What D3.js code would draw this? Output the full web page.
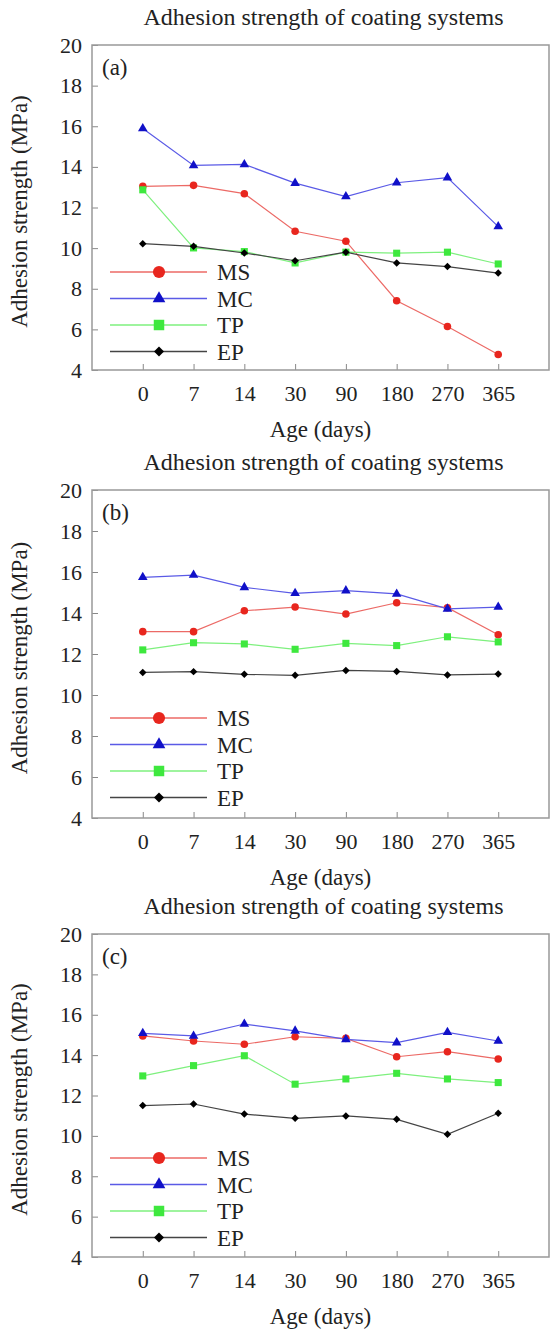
<!DOCTYPE html>
<meta charset="utf-8">
<title>Adhesion strength of coating systems</title>
<body>
<script src="https://cdn.jsdelivr.net/npm/d3@7"></script>
<style>
html, body {
    margin: 0;
    background: #fff;
}
svg {
    display: block;
}
svg text {
    fill: #222;
}
.axis line {
    stroke: #888;
}
</style>
<script>
// ages shown along the x axis (categorical, equally spaced)
var ages = ["0", "7", "14", "30", "90", "180", "270", "365"];
var yTicks = [4, 6, 8, 10, 12, 14, 16, 18, 20];
var panelLabels = ["(a)", "(b)", "(c)"];
var seriesNames = ["MS", "MC", "TP", "EP"];

// panel (a)
var msA = [13.04, 13.09, 12.68, 10.83, 10.34, 7.41, 6.14, 4.76];
var mcA = [15.89, 14.07, 14.12, 13.2, 12.54, 13.22, 13.47, 11.06];
var tpA = [12.87, 10.01, 9.83, 9.27, 9.8, 9.75, 9.8, 9.22];
var epA = [10.22, 10.09, 9.76, 9.38, 9.8, 9.27, 9.09, 8.77];

// panel (b)
var msB = [13.09, 13.09, 14.11, 14.29, 13.95, 14.5, 14.26, 12.94];
var mcB = [15.74, 15.85, 15.25, 14.96, 15.09, 14.93, 14.2, 14.29];
var tpB = [12.2, 12.55, 12.49, 12.23, 12.52, 12.41, 12.84, 12.59];
var epB = [11.1, 11.14, 11.01, 10.96, 11.2, 11.15, 10.98, 11.02];

// panel (c)
var msC = [14.95, 14.7, 14.54, 14.91, 14.83, 13.92, 14.17, 13.81];
var mcC = [15.08, 14.95, 15.54, 15.2, 14.78, 14.62, 15.13, 14.7];
var tpC = [12.97, 13.48, 13.97, 12.56, 12.82, 13.1, 12.82, 12.64];
var epC = [11.5, 11.58, 11.08, 10.87, 10.99, 10.82, 10.08, 11.12];

var panelData = [
    [msA, mcA, tpA, epA],
    [msB, mcB, tpB, epB],
    [msC, mcC, tpC, epC]
];

var serif = "'Liberation Serif', 'Times New Roman', serif";

var lineColors = ["#ec6a66", "#5a5ae6", "#7ef07e", "#444"];
var markColors = ["#e8261e", "#1010c8", "#3ee83e", "#000"];
// the diamond is a square turned 45 degrees
var symbols = [d3.symbolCircle, d3.symbolTriangle, d3.symbolSquare, d3.symbolSquare];
var turns = [0, 0, 0, 45];
var markSizes = [45, 40, 50, 28];
var legendSizes = [115, 70, 110, 50];

var width = 551,
    height = 1329;

// box top / bottom of each panel, and legend top row
var boxes = [
    {top: 45, bottom: 370, legendY: 272},
    {top: 490, bottom: 818, legendY: 718},
    {top: 934, bottom: 1257, legendY: 1158}
];
var left = 92,
    right = 549;

var svg = d3.select("body").append("svg")
    .attr("width", width)
    .attr("height", height)
    .attr("font-family", serif);

var x = d3.scalePoint()
    .domain(ages)
    .range([left, right])
    .padding(1);

boxes.forEach(function(b, p) {
    var g = svg.append("g");

    var y = d3.scaleLinear()
        .domain([4, 20])
        .range([b.bottom, b.top]);

    g.append("text")
        .attr("x", (left + right) / 2 + 3)
        .attr("y", b.top - 20)
        .attr("text-anchor", "middle")
        .style("font-size", "24px")
        .text("Adhesion strength of coating systems");

    g.append("g")
        .attr("class", "axis")
        .attr("transform", "translate(" + left + ",0)")
        .call(d3.axisLeft(y).tickValues(yTicks).tickSizeInner(-6).tickSizeOuter(0).tickPadding(10))
        .attr("font-family", serif)
        .attr("font-size", 22)
        .call(function(s) { s.select(".domain").remove(); });

    g.append("g")
        .attr("class", "axis")
        .attr("transform", "translate(0," + b.bottom + ")")
        .call(d3.axisBottom(x).tickSizeInner(-6).tickSizeOuter(0).tickPadding(15))
        .attr("font-family", serif)
        .attr("font-size", 22)
        .call(function(s) { s.select(".domain").remove(); });

    g.append("rect")
        .attr("x", left)
        .attr("y", b.top)
        .attr("width", right - left)
        .attr("height", b.bottom - b.top)
        .attr("fill", "none")
        .attr("stroke", "#999")
        .attr("stroke-width", 1.5);

    g.append("text")
        .attr("x", left + 10)
        .attr("y", b.top + 30)
        .style("font-size", "23px")
        .text(panelLabels[p]);

    g.append("text")
        .attr("transform", "translate(27," + ((b.top + b.bottom) / 2 + 4) + ")rotate(-90)")
        .attr("text-anchor", "middle")
        .style("font-size", "23px")
        .text("Adhesion strength (MPa)");

    g.append("text")
        .attr("x", (left + right) / 2)
        .attr("y", b.bottom + 67)
        .attr("text-anchor", "middle")
        .style("font-size", "23px")
        .text("Age (days)");

    var line = d3.line()
        .x(function(d, i) { return x(ages[i]); })
        .y(function(d) { return y(d); });

    panelData[p].forEach(function(values, s) {
        g.append("path")
            .datum(values)
            .attr("fill", "none")
            .attr("stroke", lineColors[s])
            .attr("stroke-width", 1.2)
            .attr("d", line);

        g.selectAll(null)
            .data(values)
            .enter().append("path")
            .attr("transform", function(d, i) {
                return "translate(" + x(ages[i]) + "," + y(d) + ")rotate(" + turns[s] + ")";
            })
            .attr("fill", markColors[s])
            .attr("d", d3.symbol().type(symbols[s]).size(markSizes[s]));
    });

    // legend
    var legend = g.selectAll(".legend")
        .data(seriesNames)
        .enter().append("g")
        .attr("transform", function(d, i) {
            return "translate(0," + (b.legendY + i * 26.5) + ")";
        });

    legend.append("line")
        .attr("x1", left + 18)
        .attr("x2", left + 115)
        .attr("stroke", function(d, i) { return lineColors[i]; })
        .attr("stroke-width", 1.3);

    legend.append("path")
        .attr("transform", function(d, i) {
            return "translate(" + (left + 67) + ",0)rotate(" + turns[i] + ")";
        })
        .attr("fill", function(d, i) { return markColors[i]; })
        .attr("d", function(d, i) {
            return d3.symbol().type(symbols[i]).size(legendSizes[i])();
        });

    legend.append("text")
        .attr("x", left + 125)
        .attr("dy", "0.35em")
        .style("font-size", "23px")
        .text(function(d) { return d; });
});
</script>
